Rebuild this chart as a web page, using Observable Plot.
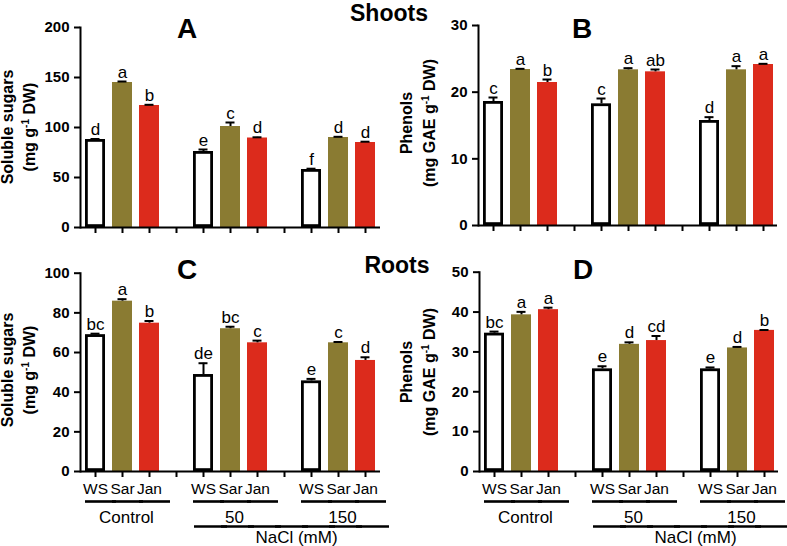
<!DOCTYPE html>
<html><head><meta charset="utf-8">
<script src="https://cdn.jsdelivr.net/npm/d3@7"></script>
<script src="https://cdn.jsdelivr.net/npm/@observablehq/plot@0.6"></script>
<style>
body{margin:0;background:#fff;}
#fig{position:relative;width:787px;height:546px;font-family:"Liberation Sans",Arial,sans-serif;color:#000;overflow:hidden;background:#fff}
.panel{position:absolute}
.panel svg{overflow:visible}
.lab{position:absolute;white-space:nowrap;transform:translate(-50%,-50%) rotate(-90deg);font-weight:bold;font-size:16px;line-height:1}
.lab sup{font-size:10px;vertical-align:6px;line-height:0}
.title{position:absolute;font-weight:bold;font-size:23px;transform:translate(-50%,0);line-height:1;white-space:nowrap}
.letter{position:absolute;font-weight:bold;font-size:28px;transform:translate(-50%,0);line-height:1}
g[aria-label="y-axis tick label"]{font-weight:bold}
</style></head><body><div id="fig"></div>
<script>
// ---- data ----
const groups = ["Control", "50", "150"];
const cultivars = ["WS", "Sar", "Jan"];
const gapSlots = ["gap1", "gap2"];
const groupAxisTitle = "NaCl (mM)";

const sugarShoot    = [88, 145, 122,   76, 101, 89.5,  58, 90, 85];
const sugarShootErr = [0.5, 1, 0.7,    2, 4, 0.7,      0.8, 0.7, 0.8];
const sugarShootLet = ["d","a","b","e","c","d","f","d","d"];

const phenolShoot    = [18.6, 23.4, 21.45,  18.25, 23.35, 23.05,  15.75, 23.35, 24.15];
const phenolShootErr = [0.6, 0.1, 0.45,     0.8, 0.25, 0.35,      0.5, 0.55, 0.1];
const phenolShootLet = ["c","a","b","c","a","ab","d","a","a"];

const sugarRoot    = [69, 85.9, 74.8,  48.9, 72, 64.9,  45.7, 64.9, 56];
const sugarRootErr = [0.5, 1, 1.1,     5.7, 1, 1.1,     1, 0.4, 1.6];
const sugarRootLet = ["bc","a","b","de","bc","c","e","c","d"];

const phenolRoot    = [34.7, 39.3, 40.6,  25.75, 31.9, 32.85,  25.75, 31.0, 35.4];
const phenolRootErr = [0.4, 0.75, 0.5,    0.65, 0.5, 1.15,     0.35, 0.25, 0.1];
const phenolRootLet = ["bc","a","a","e","d","cd","e","d","b"];

const ticksSugarShoot = [0, 50, 100, 150, 200];
const ticksPhenolShoot = [0, 10, 20, 30];
const ticksSugarRoot = [0, 20, 40, 60, 80, 100];
const ticksPhenolRoot = [0, 10, 20, 30, 40, 50];

const colors = {WS: "#ffffff", Sar: "#8a7b32", Jan: "#dc2b1c"};

// ---- build ----
const slots = [];
groups.forEach((g, i) => {
  if (i > 0) slots.push(gapSlots[i - 1]);
  cultivars.forEach(c => slots.push(g + "|" + c));
});
function rowsOf(vals, errs, lets) {
  const out = [];
  groups.forEach((g, gi) => cultivars.forEach((c, ci) => {
    const k = gi * cultivars.length + ci;
    out.push({slot: g + "|" + c, cultivar: c, value: vals[k], top: vals[k] + errs[k], letter: lets[k]});
  }));
  return out;
}
const groupRows = groups.map(g => ({label: g, mid: g + "|" + cultivars[1]}));
// underline segments: one per slot of each group
const groupLineRows = groups.flatMap(g => cultivars.map(c => ({slot: g + "|" + c})));
const naclFirst = slots.indexOf(groups[1] + "|" + cultivars[0]);
const naclLast = slots.indexOf(groups[2] + "|" + cultivars[2]);
const naclLineRows = slots.slice(naclFirst, naclLast + 1).map(s => ({slot: s}));
const naclRow = [{label: groupAxisTitle, mid: gapSlots[1]}];

const fig = document.getElementById("fig");

function panel({vals, errs, lets, domain, ticks, left, top, width, height, mL, mR, mT, mB, bottom}) {
  const rows = rowsOf(vals, errs, lets);
  const marks = [
    Plot.barY(rows.filter(d => d.cultivar !== "WS"), {x: "slot", y: "value", fill: d => colors[d.cultivar]}),
    Plot.barY(rows.filter(d => d.cultivar === "WS"), {x: "slot", y: "value", fill: "white", stroke: "black", strokeWidth: 2.8, inset: 1.4}),
    Plot.ruleX(rows, {x: "slot", y1: "value", y2: "top", stroke: "black", strokeWidth: 2}),
    Plot.tickY(rows, {x: "slot", y: "top", stroke: "black", strokeWidth: 2, inset: 5.5}),
    Plot.text(rows, {x: "slot", y: "top", text: "letter", lineAnchor: "bottom", dy: -4, fontSize: 17}),
    Plot.axisY({ticks, tickSize: 6, tickPadding: 5, strokeWidth: 2, fontSize: 15, fontWeight: "bold", label: null}),
    Plot.axisX({tickSize: 6, tickPadding: 5, strokeWidth: 2, fontSize: 15.5, label: null,
      tickFormat: d => (bottom && !gapSlots.includes(d)) ? d.split("|")[1] : ""}),
    Plot.frame({anchor: "left", strokeWidth: 2}),
    Plot.ruleY([0], {strokeWidth: 2})
  ];
  if (bottom) {
    marks.push(
      Plot.tickY(groupLineRows, {x: "slot", y: d => 0, dy: 30, strokeWidth: 2.6, insetLeft: 0, insetRight: -11}),
      Plot.text(groupRows, {x: "mid", y: d => 0, text: "label", dy: 46, dx: 4, fontSize: 17, lineAnchor: "middle"}),
      Plot.tickY(naclLineRows, {x: "slot", y: d => 0, dy: 55, strokeWidth: 2.6, insetLeft: 1, insetRight: -14}),
      Plot.text(naclRow, {x: "mid", y: d => 0, text: "label", dy: 66, dx: 12, fontSize: 17, lineAnchor: "middle"})
    );
  }
  const svg = Plot.plot({
    width, height,
    marginLeft: mL, marginRight: mR, marginTop: mT, marginBottom: mB,
    style: {fontFamily: '"Liberation Sans", Arial, sans-serif', fontSize: "15px", background: "transparent", color: "black", overflow: "visible"},
    x: {type: "band", domain: slots, paddingInner: 0.27, paddingOuter: 0.15},
    y: {domain},
    marks
  });
  const div = document.createElement("div");
  div.className = "panel";
  div.style.left = left + "px";
  div.style.top = top + "px";
  div.appendChild(svg);
  fig.appendChild(div);
}

panel({vals: sugarShoot, errs: sugarShootErr, lets: sugarShootLet, domain: [0, 200], ticks: ticksSugarShoot,
  left: 0, top: 0, width: 390, height: 250, mL: 80, mR: 10, mT: 27, mB: 23, bottom: false});
panel({vals: phenolShoot, errs: phenolShootErr, lets: phenolShootLet, domain: [0, 30], ticks: ticksPhenolShoot,
  left: 390, top: 0, width: 397, height: 250, mL: 88, mR: 10, mT: 25, mB: 25, bottom: false});
panel({vals: sugarRoot, errs: sugarRootErr, lets: sugarRootLet, domain: [0, 100], ticks: ticksSugarRoot,
  left: 0, top: 250, width: 390, height: 296, mL: 80, mR: 10, mT: 22.7, mB: 75, bottom: true});
panel({vals: phenolRoot, errs: phenolRootErr, lets: phenolRootLet, domain: [0, 50], ticks: ticksPhenolRoot,
  left: 390, top: 250, width: 397, height: 296, mL: 89, mR: 9, mT: 21.7, mB: 75, bottom: true});

// ---- text overlays ----
function addDiv(cls, html, x, y) {
  const d = document.createElement("div");
  d.className = cls; d.innerHTML = html;
  d.style.left = x + "px"; d.style.top = y + "px";
  fig.appendChild(d);
}
addDiv("title", "Shoots", 389, 1.5);
addDiv("title", "Roots", 397, 253.5);
addDiv("letter", "A", 187, 15.3);
addDiv("letter", "B", 582, 15.3);
addDiv("letter", "C", 187, 256.3);
addDiv("letter", "D", 583, 256.3);
addDiv("lab", "Soluble sugars", 8, 127);
addDiv("lab", "(mg g<sup>-1</sup> DW)", 30, 127);
addDiv("lab", "Phenols", 407, 123);
addDiv("lab", "(mg GAE g<sup>-1</sup> DW)", 430, 123);
addDiv("lab", "Soluble sugars", 8, 370);
addDiv("lab", "(mg g<sup>-1</sup> DW)", 30, 370);
addDiv("lab", "Phenols", 407, 372);
addDiv("lab", "(mg GAE g<sup>-1</sup> DW)", 430, 372);
</script></body></html>
